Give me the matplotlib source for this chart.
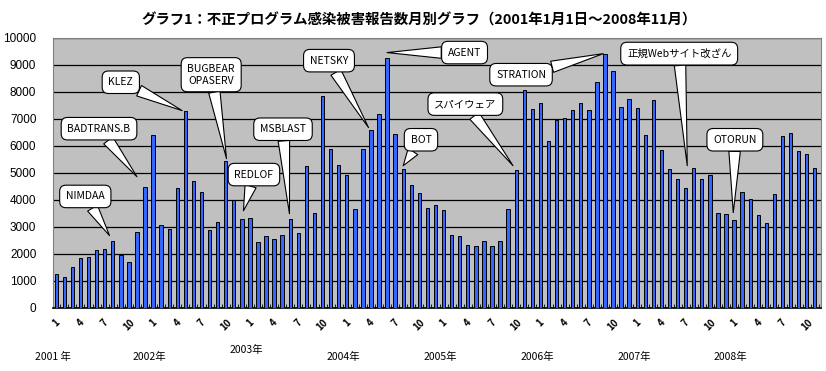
import numpy as np
import matplotlib.pyplot as plt

plt.rcParams['font.family'] = ['Noto Sans CJK JP', 'DejaVu Sans']

# monthly reports, Jan 2001 .. Nov 2008
counts = [1260, 1140, 1500, 1840, 1880, 2160, 2200, 2490, 1950, 1720, 2820, 4480,
          6390, 3070, 2930, 4440, 7290, 4720, 4310, 2890, 3190, 5430, 3990, 3290,
          3330, 2440, 2660, 2560, 2720, 3280, 2760, 5250, 3520, 7840, 5870, 5300,
          4930, 3650, 5900, 6580, 7190, 9270, 6450, 5150, 4540, 4250, 3710, 3820,
          3610, 2720, 2680, 2340, 2300, 2490, 2300, 2490, 3670, 5120, 8060, 7360,
          7590, 6170, 6970, 7050, 7320, 7590, 7320, 8380, 9390, 8790, 7440, 7740,
          7420, 6390, 7710, 5860, 5150, 4780, 4450, 5180, 4760, 4920, 3510, 3490,
          3260, 4310, 4030, 3450, 3160, 4220, 6370, 6480, 5820, 5710, 5190]
years = ['2001 年', '2002年', '2003年', '2004年', '2005年', '2006年', '2007年', '2008年']
month_ticks = ['1', '4', '7', '10']

# callouts: label, (text x, text y), (point x, point y)
callouts = [
    ('NIMDAA', (3.6, 4130), (6.6, 2680)),
    ('BADTRANS.B', (5.3, 6640), (10.0, 4860)),
    ('KLEZ', (8.0, 8360), (15.6, 7310)),
    ('BUGBEAR\nOPASERV', (19.2, 8640), (21.1, 5530)),
    ('REDLOF', (24.5, 4940), (23.2, 3600)),
    ('MSBLAST', (28.1, 6620), (28.9, 3490)),
    ('NETSKY', (33.8, 9160), (38.7, 6680)),
    ('AGENT', (50.6, 9460), (41.0, 9460)),
    ('BOT', (45.2, 6230), (43.0, 5270)),
    ('スパイウェア', (50.7, 7550), (56.6, 5270)),
    ('STRATION', (57.6, 8640), (67.8, 9420)),
    ('正規Webサイト改ざん', (77.2, 9420), (78.2, 5270)),
    ('OTORUN', (84.1, 6230), (83.9, 3530)),
]

fig = plt.figure(figsize=(8.26, 3.71), dpi=100)
ax = fig.add_axes([0.0642, 0.170, 0.930, 0.7276])
ax.set_facecolor('#c0c0c0')

x = np.arange(len(counts))
ax.bar(x, counts, width=0.42, color='#3366ff', edgecolor='black', linewidth=0.7, zorder=3)

ax.set_ylim(0, 10000)
ax.set_xlim(-0.4, 94.8)
ax.set_yticks(np.arange(0, 10001, 1000))
ax.yaxis.grid(True, color='black', linewidth=0.9, zorder=1)
ax.set_axisbelow(True)
ax.tick_params(axis='y', length=0, labelsize=8.5, pad=12)
for lab in ax.get_yticklabels():
    lab.set_family(['Liberation Sans', 'DejaVu Sans'])

pos = [i for i in x if i % 3 == 0]
ax.set_xticks(pos)
ax.set_xticklabels([month_ticks[(i % 12) // 3] for i in pos], rotation=45,
                   fontsize=7, fontweight='bold', ha='center', va='top')
ax.tick_params(axis='x', length=0, pad=7)
ax.set_xticks(np.arange(0.5, 95, 1), minor=True)
ax.tick_params(axis='x', which='minor', direction='in', length=3, color='black')

for s in ['left', 'top', 'right']:
    ax.spines[s].set_color('#808080')
    ax.spines[s].set_linewidth(0.8)
ax.spines['bottom'].set_linewidth(1.2)

for k, yr in enumerate(years):
    yoff = -0.155 if yr == '2003年' else -0.18
    ax.text(12 * k - 0.4, yoff, yr, transform=ax.get_xaxis_transform(),
            ha='center', va='center', fontsize=7.5)

for label, txy, pxy in callouts:
    ax.annotate(label, xy=pxy, xytext=txy, ha='center', va='center', fontsize=7.5,
                zorder=5,
                bbox=dict(boxstyle='round,pad=0.6,rounding_size=0.6', fc='white',
                          ec='black', lw=0.8),
                arrowprops=dict(arrowstyle='wedge,tail_width=1.1,shrink_factor=0.5',
                                fc='white', ec='black', lw=0.8, shrinkA=0, shrinkB=0))

fig.suptitle('グラフ1：不正プログラム感染被害報告数月別グラフ（2001年1月1日～2008年11月）',
             x=0.507, y=0.965, fontsize=10.4, fontweight='bold')

fig.savefig('out.png', dpi=100)
